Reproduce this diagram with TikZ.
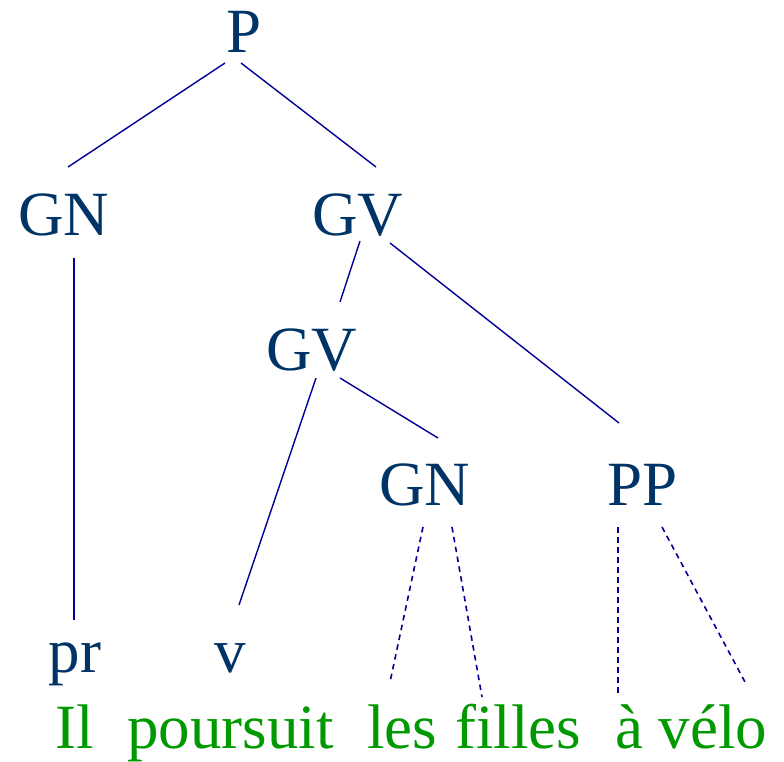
\documentclass[tikz,border=0pt]{standalone}
\usepackage{fontspec}
\setmainfont{Liberation Serif}
\definecolor{labblue}{HTML}{003366}
\definecolor{edgeblue}{HTML}{000099}
\definecolor{wordgreen}{HTML}{009900}
\begin{document}
\begin{tikzpicture}[x=1pt,y=-1pt,
  cat/.style={anchor=base,inner sep=0pt,text=labblue,font=\fontsize{63}{70}\selectfont},
  word/.style={anchor=base west,inner sep=0pt,text=wordgreen,font=\fontsize{63}{70}\selectfont},
  edge/.style={draw=edgeblue,line width=1.4pt},
  dedge/.style={draw=edgeblue,line width=1.6pt,dash pattern=on 5.5pt off 4.5pt}]
\useasboundingbox (0,0) rectangle (784,761);
\node[cat] (P) at (244,52) {P};
\node[cat] (GN1) at (64,235) {GN};
\node[cat] (GV1) at (358,235) {GV};
\node[cat] (GV2) at (312,370) {GV};
\node[cat] (GN2) at (425,505) {GN};
\node[cat] (PP) at (643,505) {PP};
\node[cat] (pr) at (75,672) {pr};
\node[cat] (v) at (230,672) {v};
\node[word] (w1) at (55,748) {Il};
\node[word] (w2) at (127,748) {poursuit};
\node[word] (w3) at (367,748) {les};
\node[word] (w4) at (455,748) {filles};
\node[word] (w5) at (615,748) {à vélo};
% edge end points
\coordinate (a1) at (225,63); \coordinate (b1) at (68,167);
\coordinate (a2) at (241,63); \coordinate (b2) at (376,167);
\coordinate (a3) at (74,258); \coordinate (b3) at (74,620);
\coordinate (a4) at (360,241); \coordinate (b4) at (340,302);
\coordinate (a5) at (390,243); \coordinate (b5) at (619,423);
\coordinate (a6) at (316,378); \coordinate (b6) at (239,605);
\coordinate (a7) at (340,378); \coordinate (b7) at (438,438);
\coordinate (a8) at (423,527); \coordinate (b8) at (390,682);
\coordinate (a9) at (452,527); \coordinate (b9) at (482,697);
\coordinate (a10) at (618,527); \coordinate (b10) at (618,697);
\coordinate (a11) at (662,527); \coordinate (b11) at (745,682);
\draw[edge] (a1) -- (b1);
\draw[edge] (a2) -- (b2);
\draw[edge] (a3) -- (b3);
\draw[edge] (a4) -- (b4);
\draw[edge] (a5) -- (b5);
\draw[edge] (a6) -- (b6);
\draw[edge] (a7) -- (b7);
\draw[dedge] (a8) -- (b8);
\draw[dedge] (a9) -- (b9);
\draw[dedge] (a10) -- (b10);
\draw[dedge] (a11) -- (b11);
\end{tikzpicture}
\end{document}
